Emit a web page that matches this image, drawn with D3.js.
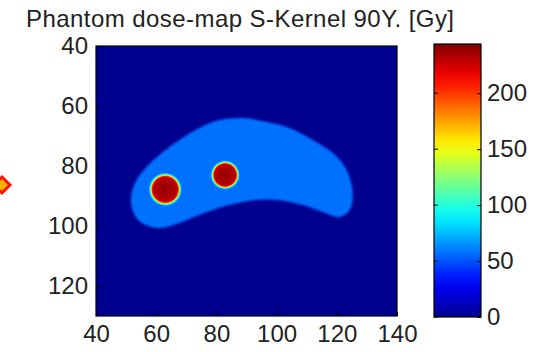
<!DOCTYPE html>
<html>
<head>
<meta charset="utf-8">
<script src="https://cdn.jsdelivr.net/npm/d3@7"></script>
<style>
  body { margin: 0; background: #fff; }
  text { font-family: "Liberation Sans", Arial, sans-serif; fill: #222; }
</style>
</head>
<body>
<div id="chart"></div>
<script>
// values (axes in pixel index units, dose in Gy)
const title = "Phantom dose-map S-Kernel 90Y. [Gy]";
const xDomain = [40, 140];
const yDomain = [40, 130];
const xTicks = [40, 60, 80, 100, 120, 140];
const yTicks = [40, 60, 80, 100, 120];
const doseMax = 244;
const cbTicks = [0, 50, 100, 150, 200];

const backgroundDose = 0;
const phantomDose = 57;
// phantom outline (x, y) in image units
const phantomX = [88.7, 96.7, 104.3, 112, 118.7, 123.3, 125.3, 124.3, 121, 115.3, 108.7, 100, 93.3, 84.3, 76, 67.7, 61, 54.3, 51.7, 52.3, 55.3, 61, 67.7, 74.3, 81];
const phantomY = [64, 65.3, 67.3, 71.3, 75.7, 81.3, 89, 94.7, 97, 95.3, 93, 91.3, 91.3, 93, 95.7, 99, 100.7, 98.3, 93, 87.3, 82, 76.3, 71.3, 67.3, 64.7];

// hot spots (tumour spheres)
const spotX = [63, 82.9];
const spotY = [87.8, 83];
const spotR = [5.5, 4.8];
const spotPeak = [240, 240];
// radial dose profile of a spot (fraction of radius -> dose)
const profileR = [0, 0.72, 0.79, 0.84, 0.88, 0.93, 1.0];
const profileDose = [240, 230, 205, 165, 125, 90, 57];

const W = 534, H = 352;
const plot = {left: 96, right: 397, top: 46, bottom: 316};
const cb = {left: 434, right: 481, top: 44, bottom: 317};

const jet = d3.scaleLinear()
    .domain([0, 0.125, 0.375, 0.625, 0.875, 1].map(t => t * doseMax))
    .range(["#00008f", "#0000ff", "#00ffff", "#ffff00", "#ff0000", "#800000"])
    .clamp(true);

const x = d3.scaleLinear().domain(xDomain).range([plot.left, plot.right]);
const y = d3.scaleLinear().domain(yDomain).range([plot.top, plot.bottom]);
const c = d3.scaleLinear().domain([0, doseMax]).range([cb.bottom, cb.top]);

const svg = d3.select("#chart").append("svg")
    .attr("width", W)
    .attr("height", H);

const defs = svg.append("defs");
defs.append("clipPath").attr("id", "plotclip")
    .append("rect")
    .attr("x", plot.left).attr("y", plot.top)
    .attr("width", plot.right - plot.left).attr("height", plot.bottom - plot.top);

defs.append("filter").attr("id", "soft")
    .attr("x", "-10%").attr("y", "-10%").attr("width", "120%").attr("height", "120%")
    .append("feGaussianBlur").attr("stdDeviation", 1.3);

spotX.forEach((d, i) => {
    let g = defs.append("radialGradient").attr("id", "spot" + i);
    profileR.forEach((r, k) => {
        g.append("stop")
            .attr("offset", r)
            .attr("stop-color", jet(profileDose[k] * spotPeak[i] / 240));
    });
});

// colorbar gradient
let cg = defs.append("linearGradient").attr("id", "cbgrad")
    .attr("x1", 0).attr("y1", 1).attr("x2", 0).attr("y2", 0);
d3.range(0, 1.0001, 0.05).forEach(t => {
    cg.append("stop").attr("offset", t).attr("stop-color", jet(t * doseMax));
});

// dose map
let map = svg.append("g").attr("clip-path", "url(#plotclip)");
map.append("rect")
    .attr("x", plot.left).attr("y", plot.top)
    .attr("width", plot.right - plot.left).attr("height", plot.bottom - plot.top)
    .attr("fill", jet(backgroundDose));

let outline = phantomX.map((d, i) => [x(d), y(phantomY[i])]);
map.append("path")
    .attr("d", d3.line().curve(d3.curveCatmullRomClosed)(outline))
    .attr("fill", jet(phantomDose))
    .attr("filter", "url(#soft)");

map.selectAll(".spot")
    .data(spotX)
    .join("circle")
    .attr("class", "spot")
    .attr("cx", d => x(d))
    .attr("cy", (d, i) => y(spotY[i]))
    .attr("r", (d, i) => x(xDomain[0] + spotR[i]) - x(xDomain[0]))
    .attr("fill", (d, i) => "url(#spot" + i + ")");

// axes
let xAxis = d3.axisBottom(x).tickValues(xTicks).tickSize(-4).tickPadding(9);
let yAxis = d3.axisLeft(y).tickValues(yTicks).tickSize(-4).tickPadding(8);

let gx = svg.append("g").attr("transform", "translate(0," + plot.bottom + ")").call(xAxis);
let gy = svg.append("g").attr("transform", "translate(" + plot.left + ",0)").call(yAxis);
[gx, gy].forEach(g => {
    g.select(".domain").remove();
    g.selectAll(".tick line").attr("stroke", "#000");
    g.selectAll("text").style("font-size", "24px").attr("fill", "#222");
});
gx.selectAll("text").attr("dy", "0.71em");

svg.append("rect")
    .attr("x", plot.left).attr("y", plot.top)
    .attr("width", plot.right - plot.left).attr("height", plot.bottom - plot.top)
    .attr("fill", "none").attr("stroke", "#000").attr("stroke-width", 1.2);

// colorbar
svg.append("rect")
    .attr("x", cb.left).attr("y", cb.top)
    .attr("width", cb.right - cb.left).attr("height", cb.bottom - cb.top)
    .attr("fill", "url(#cbgrad)")
    .attr("stroke", "#000").attr("stroke-width", 1.2);

let cbAxis = d3.axisRight(c).tickValues(cbTicks).tickSize(-4).tickPadding(6);
let gc = svg.append("g").attr("transform", "translate(" + cb.right + ",0)").call(cbAxis);
gc.select(".domain").remove();
gc.selectAll(".tick line").attr("stroke", "#000");
gc.selectAll("text").style("font-size", "24px").attr("fill", "#222");
// inner ticks on the left side of the bar
svg.append("g").selectAll("line")
    .data(cbTicks)
    .join("line")
    .attr("x1", cb.left).attr("x2", cb.left + 4)
    .attr("y1", d => c(d)).attr("y2", d => c(d))
    .attr("stroke", "#000");

// title
svg.append("text")
    .attr("x", 240)
    .attr("y", 27)
    .attr("text-anchor", "middle")
    .style("font-size", "24px")
    .attr("textLength", 428)
    .text(title);

// cropped marker at the left edge
svg.append("path")
    .attr("d", "M2,177 L10,185 L2,193 L-6,185 Z")
    .attr("fill", "#ffb000")
    .attr("stroke", "#ff1000")
    .attr("stroke-width", 3);
</script>
</body>
</html>
